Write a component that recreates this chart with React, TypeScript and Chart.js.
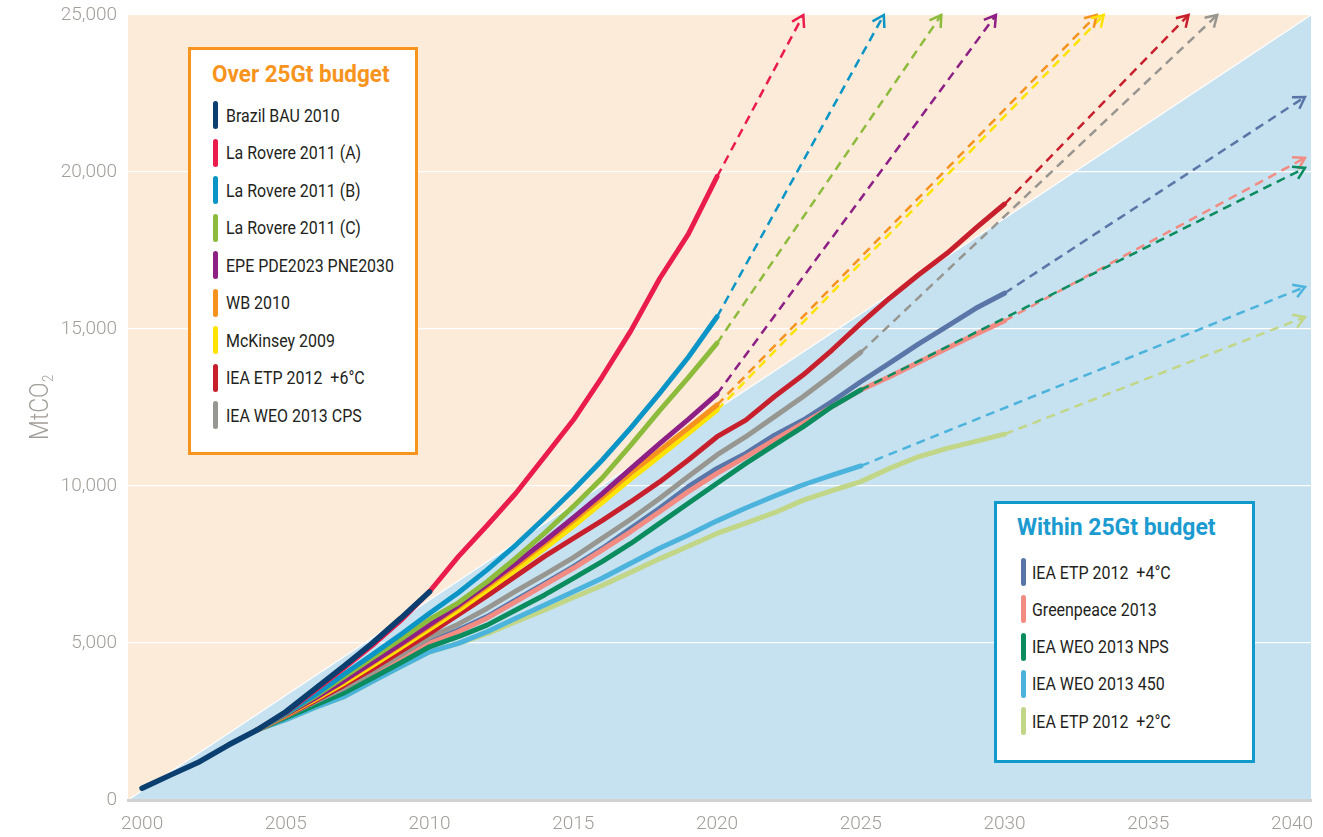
import React, { useEffect, useRef } from "react";
import { Chart, registerables } from "chart.js";

Chart.register(...registerables);

const TICK_FONT = 'Roboto, "DejaVu Sans Condensed", sans-serif';
const LEGEND_FONT = 'Roboto, "DejaVu Sans Condensed", sans-serif';

// ---- axes ----
const xTickYears = [2000, 2005, 2010, 2015, 2020, 2025, 2030, 2035, 2040];
const yTickValues = [0, 5000, 10000, 15000, 20000, 25000];
const xAxisRange = [1999.51, 2040.66];
const yAxisRange = [0, 25000];

// ---- 25Gt budget diagonal (background split) ----
const budgetYears = [1999.51, 2040.66];
const budgetValues = [0, 25000];

// ---- years ----
const histYears = [2000, 2001, 2002, 2003, 2004, 2005, 2006, 2007, 2008, 2009, 2010];
const yearsTo2020 = [2004, 2005, 2006, 2007, 2008, 2009, 2010, 2011, 2012, 2013, 2014, 2015, 2016, 2017, 2018, 2019, 2020];
const yearsTo2025 = [2004, 2005, 2006, 2007, 2008, 2009, 2010, 2011, 2012, 2013, 2014, 2015, 2016, 2017, 2018, 2019, 2020, 2021, 2022, 2023, 2024, 2025];
const yearsTo2030 = [2004, 2005, 2006, 2007, 2008, 2009, 2010, 2011, 2012, 2013, 2014, 2015, 2016, 2017, 2018, 2019, 2020, 2021, 2022, 2023, 2024, 2025, 2026, 2027, 2028, 2029, 2030];

// ---- series values (MtCO2, cumulative) ----
const brazilBAU2010 = [373, 800, 1220, 1750, 2230, 2810, 3530, 4250, 4990, 5790, 6630];
const laRovereA = [2230, 2790, 3480, 4190, 4920, 5720, 6640, 7750, 8740, 9770, 10930, 12100, 13470, 14940, 16600, 18020, 19850];
const laRovereB = [2230, 2760, 3330, 3990, 4620, 5270, 5950, 6600, 7330, 8120, 8980, 9870, 10820, 11850, 12950, 14100, 15390];
const laRovereC = [2230, 2740, 3290, 3900, 4520, 5120, 5750, 6280, 6950, 7700, 8500, 9350, 10250, 11300, 12400, 13450, 14550];
const epePDE = [2230, 2720, 3240, 3790, 4380, 4970, 5580, 6200, 6860, 7540, 8250, 8990, 9750, 10550, 11350, 12120, 12930];
const wb2010 = [2230, 2715, 3225, 3770, 4350, 4940, 5540, 6150, 6800, 7470, 8170, 8900, 9650, 10420, 11130, 11850, 12580];
const mckinsey2009 = [2230, 2700, 3190, 3710, 4270, 4850, 5440, 6040, 6680, 7330, 8010, 8720, 9470, 10230, 10950, 11680, 12420];
const ieaEtp6 = [2230, 2680, 3150, 3640, 4170, 4730, 5310, 5900, 6500, 7130, 7760, 8330, 8900, 9500, 10130, 10830, 11570, 12100, 12850, 13540, 14330, 15180, 15980, 16720, 17410, 18210, 18980];
const ieaWeoCps = [2230, 2670, 3120, 3550, 4070, 4620, 5180, 5600, 6100, 6650, 7180, 7720, 8330, 8940, 9600, 10300, 10990, 11570, 12210, 12850, 13540, 14260];
const ieaEtp4 = [2230, 2650, 3070, 3490, 3990, 4510, 5040, 5410, 5840, 6370, 6900, 7430, 8010, 8650, 9290, 9980, 10560, 11040, 11620, 12100, 12690, 13320, 13910, 14520, 15080, 15660, 16140];
const greenpeace2013 = [2230, 2640, 3050, 3470, 3960, 4470, 4990, 5360, 5790, 6320, 6850, 7380, 7960, 8550, 9180, 9820, 10400, 10930, 11470, 12000, 12530, 13060, 13480, 13930, 14390, 14830, 15260];
const ieaWeoNps = [2230, 2620, 3010, 3400, 3880, 4370, 4880, 5200, 5570, 6050, 6530, 7060, 7590, 8170, 8810, 9450, 10090, 10720, 11310, 11890, 12530, 13060];
const ieaWeo450 = [2230, 2560, 2940, 3280, 3770, 4250, 4720, 4990, 5360, 5790, 6210, 6630, 7060, 7540, 8020, 8440, 8890, 9300, 9680, 10040, 10350, 10640];
const ieaEtp2 = [2230, 2560, 2940, 3280, 3770, 4250, 4720, 4990, 5300, 5680, 6050, 6450, 6830, 7250, 7680, 8080, 8490, 8820, 9150, 9550, 9850, 10140, 10560, 10930, 11200, 11420, 11650];

// ---- legend ----
const overBudgetNames = ["Brazil BAU 2010", "La Rovere 2011 (A)", "La Rovere 2011 (B)", "La Rovere 2011 (C)", "EPE PDE2023 PNE2030", "WB 2010", "McKinsey 2009", "IEA ETP 2012  +6°C", "IEA WEO 2013 CPS"];
const overBudgetColors = ["#0b3f6f", "#ea1c4c", "#0a95c6", "#8dbb3c", "#8e1f85", "#f6921e", "#ffe300", "#c81f2d", "#979690"];
const withinBudgetNames = ["IEA ETP 2012  +4°C", "Greenpeace 2013", "IEA WEO 2013 NPS", "IEA WEO 2013 450", "IEA ETP 2012  +2°C"];
const withinBudgetColors = ["#5a76a8", "#f28b82", "#0a8c5e", "#4cb4dc", "#c2d687"];

// ---- projection arrow tips (dashed extensions) ----
const arrowTipYears = [null, 2023.0, 2025.8, 2027.8, 2029.7, 2033.2, 2033.45, 2036.4, 2037.4, 2040.45, 2040.45, 2040.45, 2040.45, 2040.45];
const arrowTipValues = [null, 25000, 25000, 25000, 25000, 25000, 25000, 25000, 25000, 22390, 20450, 20130, 16340, 15380];

const seriesNames = [...overBudgetNames, ...withinBudgetNames];
const seriesColors = [...overBudgetColors, ...withinBudgetColors];
const seriesYears = [histYears, yearsTo2020, yearsTo2020, yearsTo2020, yearsTo2020, yearsTo2020, yearsTo2020, yearsTo2030, yearsTo2025, yearsTo2030, yearsTo2030, yearsTo2025, yearsTo2025, yearsTo2030];
const seriesValues = [brazilBAU2010, laRovereA, laRovereB, laRovereC, epePDE, wb2010, mckinsey2009, ieaEtp6, ieaWeoCps, ieaEtp4, greenpeace2013, ieaWeoNps, ieaWeo450, ieaEtp2];
// drawing stack (lower = on top)
const drawRank = [0, 1, 2, 3, 4, 5, 6, 7, 8, 11, 10, 9, 12, 13];

const backgroundPlugin = {
  id: "budgetBackground",
  beforeDraw(chart: any) {
    const { ctx, chartArea: a, scales } = chart;
    const x = scales.x, y = scales.y;
    ctx.save();
    ctx.fillStyle = "#fdebda";
    ctx.fillRect(a.left, a.top, a.right - a.left, a.bottom - a.top);
    const x0 = x.getPixelForValue(budgetYears[0]);
    const y0 = y.getPixelForValue(budgetValues[0]);
    const x1 = x.getPixelForValue(budgetYears[1]);
    const y1 = y.getPixelForValue(budgetValues[1]);
    ctx.fillStyle = "#c6e1ef";
    ctx.beginPath();
    ctx.moveTo(x0, y0);
    ctx.lineTo(x1, y1);
    ctx.lineTo(x1, y0);
    ctx.closePath();
    ctx.fill();
    ctx.strokeStyle = "#ffffff";
    ctx.lineWidth = 1.2;
    ctx.beginPath();
    ctx.moveTo(x0, y0);
    ctx.lineTo(x1, y1);
    ctx.stroke();
    ctx.restore();
  },
};

const arrowPlugin = {
  id: "arrowHeads",
  afterDatasetsDraw(chart: any) {
    const ctx = chart.ctx;
    chart.data.datasets.forEach((ds: any, i: number) => {
      if (!ds.arrowHead) return;
      const pts = chart.getDatasetMeta(i).data;
      if (pts.length < 2) return;
      const tip = pts[pts.length - 1];
      const prev = pts[pts.length - 2];
      const ang = Math.atan2(tip.y - prev.y, tip.x - prev.x);
      const len = 13;
      const spread = 0.55;
      ctx.save();
      ctx.strokeStyle = ds.borderColor;
      ctx.lineWidth = 2.5;
      ctx.lineCap = "butt";
      ctx.lineJoin = "miter";
      ctx.beginPath();
      ctx.moveTo(tip.x - len * Math.cos(ang - spread), tip.y - len * Math.sin(ang - spread));
      ctx.lineTo(tip.x, tip.y);
      ctx.lineTo(tip.x - len * Math.cos(ang + spread), tip.y - len * Math.sin(ang + spread));
      ctx.stroke();
      ctx.restore();
    });
  },
};

const yTitlePlugin = {
  id: "yTitleSub",
  afterDraw(chart: any) {
    const { ctx, chartArea: a } = chart;
    const cy = (a.top + a.bottom) / 2;
    ctx.save();
    ctx.translate(41, cy);
    ctx.rotate(-Math.PI / 2);
    ctx.scale(0.88, 1);
    ctx.fillStyle = "#a19d98";
    ctx.textBaseline = "middle";
    ctx.textAlign = "left";
    ctx.font = `300 26px ${TICK_FONT}`;
    const main = "MtCO";
    const wMain = ctx.measureText(main).width;
    ctx.font = `300 15px ${TICK_FONT}`;
    const wSub = ctx.measureText("2").width;
    const start = -(wMain + wSub) / 2;
    ctx.font = `300 26px ${TICK_FONT}`;
    ctx.fillText(main, start, 0);
    ctx.font = `300 15px ${TICK_FONT}`;
    ctx.fillText("2", start + wMain + 0.5, 8);
    ctx.restore();
  },
};

function buildDatasets() {
  const ds: any[] = [];
  seriesNames.forEach((name, i) => {
    const yrs = seriesYears[i];
    const vals = seriesValues[i];
    ds.push({
      label: name,
      data: yrs.map((yr, k) => ({ x: yr, y: vals[k] })),
      borderColor: seriesColors[i],
      borderWidth: i === 0 ? 5.5 : 5,
      borderCapStyle: "round",
      borderJoinStyle: "round",
      pointRadius: 0,
      tension: 0,
      fill: false,
      order: drawRank[i],
    });
    if (arrowTipYears[i] !== null) {
      const last = yrs.length - 1;
      ds.push({
        label: name + " (projection)",
        data: [
          { x: yrs[last], y: vals[last] },
          { x: arrowTipYears[i], y: arrowTipValues[i] },
        ],
        borderColor: seriesColors[i],
        borderWidth: 2.5,
        borderDash: [9, 6],
        borderCapStyle: "butt",
        pointRadius: 0,
        tension: 0,
        fill: false,
        order: drawRank[i] + 0.5,
        arrowHead: true,
        clip: false,
      });
    }
  });
  return ds;
}

function LegendBox(props: {
  left: number; top: number; width: number; height: number; border: string;
  title: string; titleColor: string; titleY: number; names: string[]; colors: string[];
  firstY: number; step: number; barX: number; textX: number; titleX: number; titleScale: number;
}) {
  const p = props;
  return (
    <>
      <div style={{ position: "absolute", left: p.left, top: p.top, width: p.width, height: p.height, boxSizing: "border-box", border: `3px solid ${p.border}`, background: "#ffffff" }} />
      <div style={{ position: "absolute", left: p.titleX, top: p.titleY - 12, height: 24, lineHeight: "24px", fontSize: 24, fontWeight: 700, fontFamily: LEGEND_FONT, color: p.titleColor, whiteSpace: "pre", transform: `scaleX(${p.titleScale})`, transformOrigin: "0 50%" }}>{p.title}</div>
      {p.names.map((n, i) => {
        const cy = p.firstY + i * p.step;
        return (
          <React.Fragment key={n}>
            <div style={{ position: "absolute", left: p.barX, top: cy - 14, width: 5, height: 28, borderRadius: 3, background: p.colors[i] }} />
            <div style={{ position: "absolute", left: p.textX, top: cy - 9.5, height: 19, lineHeight: "19px", fontSize: 19, fontFamily: LEGEND_FONT, color: "#231f20", whiteSpace: "pre", transform: "scaleX(0.84)", transformOrigin: "0 50%" }}>{n}</div>
          </React.Fragment>
        );
      })}
    </>
  );
}

export default function App() {
  const canvasRef = useRef<HTMLCanvasElement | null>(null);

  useEffect(() => {
    if (!canvasRef.current) return;
    const tickColor = "#a19d98";
    const chart = new Chart(canvasRef.current, {
      type: "line",
      data: { datasets: buildDatasets() },
      options: {
        responsive: false,
        animation: false,
        devicePixelRatio: 1,
        layout: { padding: { left: 0, right: 12, top: 15, bottom: 0 } },
        plugins: { legend: { display: false }, tooltip: { enabled: false }, title: { display: false } },
        scales: {
          x: {
            type: "linear",
            min: xAxisRange[0],
            max: xAxisRange[1],
            afterBuildTicks: (s: any) => { s.ticks = xTickYears.map((v) => ({ value: v })); },
            afterFit: (s: any) => { s.height = 37; s.paddingLeft = 0; s.paddingRight = 0; },
            grid: { display: false, drawTicks: false },
            border: { display: true, color: "#d2d2d2", width: 3 },
            ticks: {
              color: tickColor,
              font: { family: TICK_FONT, size: 19, weight: "300" },
              padding: 13,
              maxRotation: 0,
              autoSkip: false,
              callback: (v: any) => String(v),
            },
          },
          y: {
            type: "linear",
            min: yAxisRange[0],
            max: yAxisRange[1],
            afterBuildTicks: (s: any) => { s.ticks = yTickValues.map((v) => ({ value: v })); },
            afterFit: (s: any) => { s.width = 128; s.paddingTop = 0; s.paddingBottom = 0; },
            grid: {
              drawTicks: false,
              color: (c: any) => (c.tick && (c.tick.value === 0 || c.tick.value === 25000) ? "rgba(0,0,0,0)" : "#ffffff"),
              lineWidth: 1.3,
            },
            border: { display: false },
            ticks: {
              color: tickColor,
              font: { family: TICK_FONT, size: 19, weight: "300" },
              padding: 11,
              callback: (v: any) => Number(v).toLocaleString("en-US"),
            },
          },
        },
      } as any,
      plugins: [backgroundPlugin, arrowPlugin, yTitlePlugin],
    });
    return () => chart.destroy();
  }, []);

  return (
    <div style={{ position: "absolute", left: 0, top: 0, width: 1323, height: 837, overflow: "hidden", background: "#ffffff" }}>
      <canvas ref={canvasRef} width={1323} height={837} style={{ display: "block" }} />
      <LegendBox left={188} top={47} width={230} height={408} border="#f7941d" title="Over 25Gt budget" titleColor="#f7941d" titleX={212} titleY={73.5} titleScale={0.937}
        names={overBudgetNames} colors={overBudgetColors} firstY={115} step={37.55} barX={213} textX={226} />
      <LegendBox left={994} top={501} width={261} height={262} border="#1199cc" title="Within 25Gt budget" titleColor="#1b9bd0" titleX={1017} titleY={526.5} titleScale={0.955}
        names={withinBudgetNames} colors={withinBudgetColors} firstY={572} step={37.25} barX={1021} textX={1032} />
    </div>
  );
}
